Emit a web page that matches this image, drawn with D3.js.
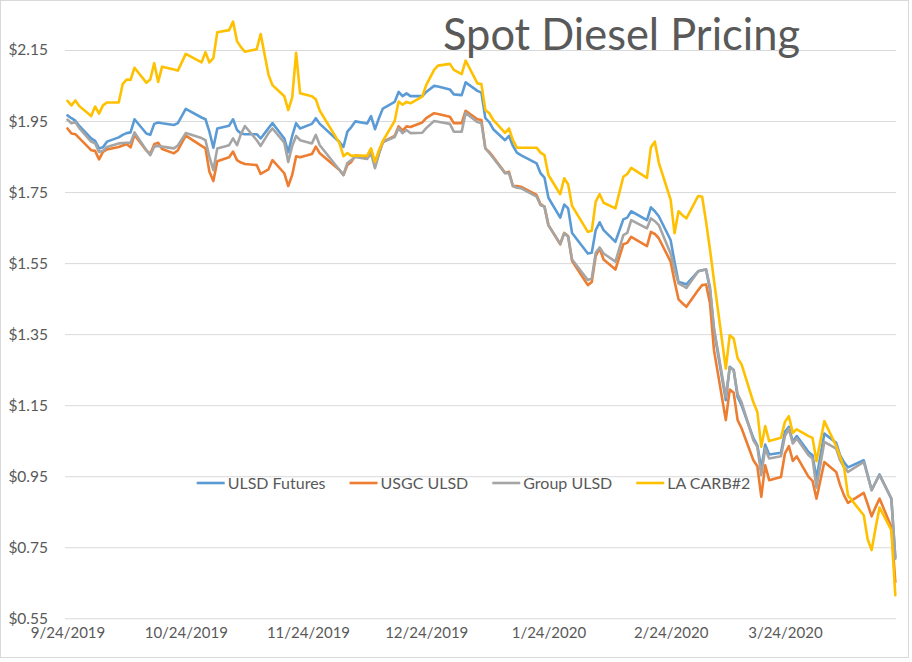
<!DOCTYPE html>
<html>
<head>
<meta charset="utf-8">
<script src="https://cdn.jsdelivr.net/npm/d3@7"></script>
<style>
  body { margin: 0; background: #fff; }
  svg { display: block; }
  text { font-family: Lato, "Open Sans", sans-serif; }
</style>
</head>
<body>
<svg id="chart" width="912" height="662"></svg>
<script>
// ---------------- DATA ----------------
const chartTitle = "Spot Diesel Pricing";
const seriesNames = ["ULSD Futures", "USGC ULSD", "Group ULSD", "LA CARB#2"];

const dates = [
"2019-09-24","2019-09-25","2019-09-26","2019-09-27","2019-09-30","2019-10-01","2019-10-02","2019-10-03","2019-10-04",
"2019-10-07","2019-10-08","2019-10-09","2019-10-10","2019-10-11","2019-10-14","2019-10-15","2019-10-16","2019-10-17","2019-10-18",
"2019-10-21","2019-10-22","2019-10-24","2019-10-28","2019-10-29","2019-10-30","2019-10-31","2019-11-01",
"2019-11-04","2019-11-05","2019-11-06","2019-11-07","2019-11-08","2019-11-11","2019-11-12","2019-11-14","2019-11-15",
"2019-11-18","2019-11-19","2019-11-20","2019-11-21","2019-11-22","2019-11-25","2019-11-26","2019-11-27",
"2019-12-02","2019-12-03","2019-12-04","2019-12-05","2019-12-06","2019-12-09","2019-12-10","2019-12-11","2019-12-12","2019-12-13",
"2019-12-16","2019-12-17","2019-12-18","2019-12-19","2019-12-20","2019-12-23","2019-12-24","2019-12-26","2019-12-27",
"2019-12-30","2019-12-31","2020-01-02","2020-01-03","2020-01-06","2020-01-07","2020-01-08","2020-01-09","2020-01-10",
"2020-01-13","2020-01-14","2020-01-15","2020-01-16","2020-01-17","2020-01-21","2020-01-22","2020-01-23","2020-01-24",
"2020-01-27","2020-01-28","2020-01-29","2020-01-30","2020-02-03","2020-02-04","2020-02-05","2020-02-06","2020-02-07",
"2020-02-10","2020-02-12","2020-02-13","2020-02-14","2020-02-18","2020-02-19","2020-02-20","2020-02-21",
"2020-02-24","2020-02-25","2020-02-26","2020-02-27","2020-02-28","2020-03-02","2020-03-03","2020-03-04","2020-03-05","2020-03-06",
"2020-03-09","2020-03-10","2020-03-11","2020-03-12","2020-03-13","2020-03-16","2020-03-17","2020-03-18","2020-03-19","2020-03-20",
"2020-03-23","2020-03-24","2020-03-25","2020-03-26","2020-03-27","2020-03-30","2020-03-31","2020-04-01","2020-04-03",
"2020-04-06","2020-04-07","2020-04-08","2020-04-09","2020-04-13","2020-04-14","2020-04-15","2020-04-16","2020-04-17",
"2020-04-20","2020-04-21"
];

const ulsdFutures = [
1.966,1.958,1.951,1.936,1.901,1.894,1.873,1.876,1.892,
1.904,1.911,1.916,1.918,1.955,1.915,1.911,1.942,1.946,1.944,
1.939,1.944,1.984,1.960,1.955,1.920,1.875,1.929,
1.937,1.955,1.925,1.915,1.913,1.913,1.901,1.930,1.944,
1.901,1.862,1.908,1.944,1.929,1.942,1.958,1.942,
1.891,1.877,1.920,1.933,1.949,1.943,1.964,1.927,1.958,1.985,
2.004,2.032,2.020,2.028,2.020,2.020,2.032,2.049,2.047,
2.039,2.025,2.023,2.059,2.035,2.030,1.958,1.947,1.927,
1.896,1.908,1.880,1.861,1.854,1.831,1.803,1.791,1.734,
1.678,1.715,1.704,1.635,1.577,1.579,1.643,1.665,1.643,
1.610,1.673,1.678,1.696,1.671,1.707,1.696,1.682,
1.615,1.553,1.497,1.494,1.490,1.527,1.530,1.532,1.474,1.361,
1.164,1.258,1.249,1.173,1.150,1.057,1.037,0.972,1.039,1.011,
1.016,1.075,1.089,1.047,1.063,1.018,1.009,0.944,1.070,
1.044,1.009,0.989,0.975,0.995,0.953,0.911,0.933,0.955,
0.887,0.722
];

const usgcUlsd = [
1.929,1.915,1.913,1.902,1.868,1.866,1.842,1.863,1.870,
1.877,1.881,1.885,1.876,1.911,1.867,1.858,1.885,1.889,1.871,
1.859,1.868,1.909,1.880,1.873,1.807,1.781,1.837,
1.848,1.864,1.840,1.833,1.829,1.826,1.801,1.814,1.840,
1.803,1.767,1.798,1.851,1.848,1.857,1.878,1.859,
1.812,1.798,1.826,1.835,1.853,1.849,1.870,1.823,1.860,1.891,
1.908,1.935,1.923,1.935,1.933,1.946,1.958,1.972,1.970,
1.962,1.944,1.944,1.979,1.955,1.953,1.873,1.863,1.849,
1.804,1.807,1.767,1.767,1.765,1.742,1.716,1.709,1.657,
1.603,1.635,1.626,1.556,1.488,1.497,1.570,1.591,1.560,
1.532,1.603,1.607,1.624,1.598,1.638,1.632,1.620,
1.554,1.499,1.448,1.437,1.427,1.474,1.488,1.490,1.436,1.305,
1.108,1.194,1.185,1.108,1.085,0.995,0.978,0.892,0.981,0.939,
0.948,1.014,1.035,0.993,1.006,0.948,0.937,0.887,0.990,
0.962,0.925,0.896,0.875,0.903,0.871,0.837,0.863,0.887,
0.807,0.652
];

const groupUlsd = [
1.954,1.944,1.947,1.930,1.892,1.887,1.863,1.866,1.877,
1.887,1.888,1.889,1.889,1.918,1.868,1.854,1.878,1.880,1.878,
1.873,1.881,1.916,1.902,1.896,1.849,1.812,1.873,
1.882,1.901,1.882,1.913,1.936,1.896,1.880,1.916,1.929,
1.889,1.835,1.880,1.908,1.896,1.887,1.911,1.882,
1.812,1.798,1.832,1.840,1.849,1.843,1.860,1.817,1.857,1.891,
1.905,1.930,1.916,1.925,1.916,1.917,1.930,1.950,1.948,
1.942,1.920,1.920,1.973,1.947,1.944,1.873,1.860,1.846,
1.803,1.804,1.767,1.762,1.761,1.737,1.713,1.709,1.657,
1.604,1.634,1.624,1.560,1.502,1.507,1.579,1.594,1.577,
1.554,1.629,1.635,1.671,1.648,1.676,1.668,1.657,
1.577,1.533,1.493,1.487,1.480,1.527,1.530,1.532,1.482,1.367,
1.173,1.256,1.249,1.181,1.158,1.051,1.033,0.953,1.028,1.000,
1.006,1.063,1.084,1.042,1.056,1.009,1.000,0.918,1.047,
1.028,0.995,0.975,0.962,0.990,0.950,0.911,0.933,0.953,
0.887,0.718
];

const laCarb2 = [
2.007,1.994,2.008,1.992,1.964,1.991,1.971,1.994,2.002,
2.002,2.054,2.067,2.066,2.100,2.058,2.067,2.113,2.060,2.103,
2.095,2.092,2.139,2.115,2.144,2.115,2.127,2.200,
2.206,2.230,2.175,2.158,2.145,2.152,2.195,2.080,2.051,
2.020,1.981,2.016,2.142,2.028,2.020,2.011,1.979,
1.888,1.851,1.860,1.852,1.853,1.852,1.873,1.835,1.868,1.894,
1.950,2.005,1.996,2.004,2.000,2.019,2.051,2.094,2.106,
2.111,2.094,2.082,2.120,2.056,2.054,1.981,1.972,1.953,
1.917,1.929,1.896,1.875,1.875,1.875,1.861,1.854,1.798,
1.744,1.789,1.772,1.711,1.638,1.641,1.723,1.744,1.720,
1.704,1.793,1.801,1.818,1.790,1.876,1.892,1.833,
1.729,1.634,1.696,1.685,1.676,1.739,1.737,1.666,1.587,1.502,
1.253,1.347,1.338,1.282,1.265,1.158,1.131,1.033,1.091,1.049,
1.058,1.103,1.119,1.072,1.082,1.063,1.058,0.992,1.105,
1.035,1.004,0.975,0.896,0.840,0.772,0.742,0.804,0.862,
0.798,0.615
];

const yTickValues = [0.55, 0.75, 0.95, 1.15, 1.35, 1.55, 1.75, 1.95, 2.15];
const xTickDates = ["2019-09-24","2019-10-24","2019-11-24","2019-12-24","2020-01-24","2020-02-24","2020-03-24"];

// ---------------- STYLE ----------------
const seriesColors = ["#5B9BD5", "#ED7D31", "#A5A5A5", "#FFC000"];
const textColor = "#595959";
const gridColor = "#D9D9D9";

// ---------------- BUILD ----------------
const parse = d3.utcParse("%Y-%m-%d");
const fmtDate = d3.utcFormat("%-m/%-d/%Y");
const seriesValues = [ulsdFutures, usgcUlsd, groupUlsd, laCarb2];
const series = seriesNames.map((name, i) => ({
  name, color: seriesColors[i],
  points: dates.map((d, j) => ({ date: parse(d), value: seriesValues[i][j] }))
}));

const svg = d3.select("#chart");
svg.append("rect").attr("x", 0).attr("y", 0).attr("width", 912).attr("height", 662).attr("fill", "#fff");
svg.append("rect").attr("x", 0.5).attr("y", 0.5).attr("width", 908).attr("height", 657)
  .attr("fill", "none").attr("stroke", gridColor).attr("stroke-width", 1);

const plotLeft = 65, plotRight = 896;
const x = d3.scaleUtc()
  .domain([parse(dates[0]), parse(dates[dates.length - 1])])
  .range([67.5, 895.3]);
const y = d3.scaleLinear().domain([0.55, 2.15]).range([618.3, 50]);

// Y axis with gridlines
const yAxis = d3.axisLeft(y)
  .tickValues(yTickValues)
  .tickFormat(d3.format("$.2f"))
  .tickSize(-(plotRight - plotLeft))
  .tickPadding(17);
const gy = svg.append("g").attr("transform", `translate(${plotLeft},0)`).call(yAxis);
gy.select(".domain").remove();
gy.selectAll(".tick line").attr("stroke", gridColor).attr("stroke-width", 1);
gy.selectAll(".tick text").attr("fill", textColor).style("font-size", "15.5px")
  .style("font-family", "Lato, 'Open Sans', sans-serif");

// X axis labels
const xAxis = d3.axisBottom(x)
  .tickValues(xTickDates.map(parse))
  .tickFormat(fmtDate)
  .tickSize(0)
  .tickPadding(9);
const gx = svg.append("g").attr("transform", `translate(0,${y(0.55)})`).call(xAxis);
gx.select(".domain").remove();
gx.selectAll(".tick text").attr("fill", textColor).style("font-size", "15px")
  .style("font-family", "Lato, 'Open Sans', sans-serif");

// Lines
const line = d3.line().x(d => x(d.date)).y(d => y(d.value));
svg.append("g").selectAll("path").data(series).join("path")
  .attr("d", d => line(d.points))
  .attr("fill", "none")
  .attr("stroke", d => d.color)
  .attr("stroke-width", 2.6)
  .attr("stroke-linejoin", "round")
  .attr("stroke-linecap", "round");

// Legend
const legend = svg.append("g").attr("class", "legend");
const legendY = 483;
const items = legend.selectAll("g").data(series).join("g");
items.append("line").attr("x1", 0).attr("x2", 28).attr("y1", 0).attr("y2", 0)
  .attr("stroke", d => d.color).attr("stroke-width", 2.6);
items.append("text").attr("x", 31).attr("y", 0).attr("dy", "0.35em")
  .attr("fill", textColor).style("font-size", "16px").text(d => d.name);
let widths = [];
items.each(function () { widths.push(31 + d3.select(this).select("text").node().getComputedTextLength()); });
const gap = 24;
const total = d3.sum(widths) + gap * (widths.length - 1);
let cx = 473.5 - total / 2;
items.attr("transform", (d, i) => {
  const t = `translate(${cx},${legendY})`;
  cx += widths[i] + gap;
  return t;
});

// Title
svg.append("text")
  .attr("x", 443).attr("y", 50)
  .attr("fill", textColor)
  .style("font-size", "44px")
  .attr("textLength", 357)
  .attr("lengthAdjust", "spacingAndGlyphs")
  .text(chartTitle);
</script>
</body>
</html>
